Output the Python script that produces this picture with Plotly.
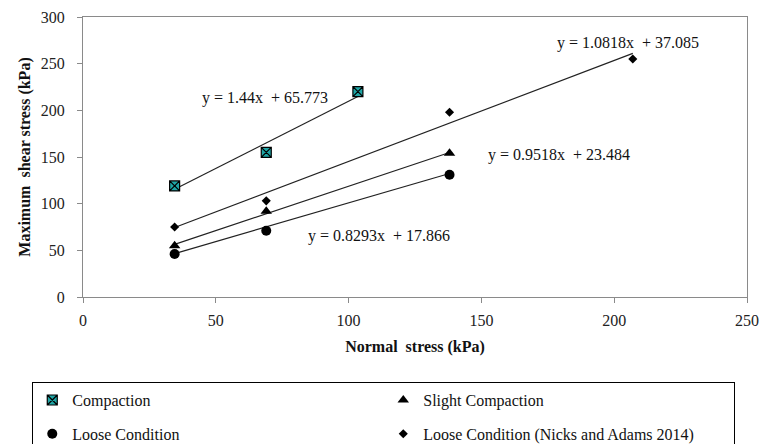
import plotly.graph_objects as go

# ---- data ----
series_names = ["Compaction", "Slight Compaction", "Loose Condition",
                "Loose Condition (Nicks and Adams 2014)"]
x_compaction = [34.5, 69, 103.5]
y_compaction = [119, 155, 220]
x_slight = [34.5, 69, 138]
y_slight = [55, 92, 154]
x_loose = [34.5, 69, 138]
y_loose = [46, 71, 131]
x_nicks = [34.5, 69, 138, 207]
y_nicks = [75, 103, 198, 255]

slopes = [1.44, 0.9518, 0.8293, 1.0818]
intercepts = [65.773, 23.484, 17.866, 37.085]
# label anchor positions (data coords) for trendline equations
label_x = [68.6, 179.3, 111.4, 205.1]
label_y = [213.6, 152.4, 65.5, 272.6]

x_ticks = [0, 50, 100, 150, 200, 250]
y_ticks = [0, 50, 100, 150, 200, 250, 300]

FONT = "Liberation Serif"

xs = [x_compaction, x_slight, x_loose, x_nicks]
ys = [y_compaction, y_slight, y_loose, y_nicks]
symbols = ["square-x", "triangle-up", "circle", "diamond"]
sizes = [10, 10, 10, 7]
fills = ["#1fa5a5", "black", "black", "black"]
line_w = [1.2, 0, 0, 0]

fig = go.Figure()

# trendlines
for i in range(4):
    x0, x1 = min(xs[i]), max(xs[i])
    fig.add_trace(go.Scatter(
        x=[x0, x1], y=[slopes[i] * x0 + intercepts[i], slopes[i] * x1 + intercepts[i]],
        mode="lines", line=dict(color="#222222", width=1.2),
        showlegend=False, hoverinfo="skip"))

# markers
for i in range(4):
    fig.add_trace(go.Scatter(
        x=xs[i], y=ys[i], mode="markers", name=series_names[i],
        legendgroup=f"g{i}",
        marker=dict(symbol=symbols[i], size=sizes[i], color=fills[i],
                    line=dict(color="black", width=line_w[i]))))

# equation labels
for i in range(4):
    fig.add_annotation(
        x=label_x[i], y=label_y[i], xref="x", yref="y", showarrow=False,
        text=f"y = {slopes[i]}x&nbsp;&nbsp;+ {intercepts[i]}",
        font=dict(family=FONT, size=16, color="#111111"))

axis_common = dict(
    showgrid=False, zeroline=False, showline=True, linecolor="#8a8a8a",
    linewidth=1, mirror=True, ticks="outside", ticklen=5, tickcolor="#8a8a8a",
    automargin=False,
    tickfont=dict(family=FONT, size=16, color="#222222"))

fig.update_xaxes(range=[0, 250], tickvals=x_ticks, ticklabelstandoff=4, **axis_common,
                 title=dict(text="<b>Normal  stress (kPa)</b>", standoff=12,
                            font=dict(family=FONT, size=16, color="#111111")))
fig.update_yaxes(range=[0, 300], tickvals=y_ticks, ticklabelstandoff=9, **axis_common,
                 title=dict(text="<b>Maximum  shear stress (kPa)</b>", standoff=6,
                            font=dict(family=FONT, size=16, color="#111111")))

fig.update_layout(
    width=762, height=444,
    font=dict(family=FONT, size=16, color="#111111"),
    margin=dict(l=83, r=15, t=17, b=147, autoexpand=False),
    plot_bgcolor="white", paper_bgcolor="white",
    legend=dict(orientation="h", x=-0.0764, y=-0.304, xanchor="left", yanchor="top",
                bordercolor="black", borderwidth=1, entrywidth=306,
                tracegroupgap=10, itemwidth=30,
                font=dict(family=FONT, size=16, color="#111111")),
    showlegend=True,
)

fig.write_html("out.html")
